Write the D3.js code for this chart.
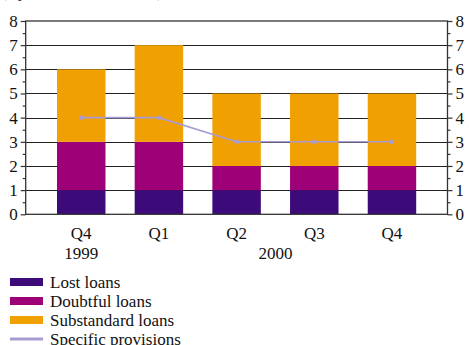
<!DOCTYPE html>
<html>
<head>
<meta charset="utf-8">
<script src="https://cdn.jsdelivr.net/npm/d3@7"></script>
<style>
  html, body { margin: 0; padding: 0; background: #fff; }
  svg { display: block; }
  text { font-family: "Liberation Serif", "DejaVu Serif", serif; fill: #111; }
</style>
</head>
<body>
<svg id="chart" width="469" height="345"></svg>
<script>
// Quarter labels and year labels under them
const quarters = ["Q4", "Q1", "Q2", "Q3", "Q4"];
const years = ["1999", "", "2000", "", ""];
const periods = ["1999Q4", "2000Q1", "2000Q2", "2000Q3", "2000Q4"];

// Loan classification values per quarter
const lostLoans = [1, 1, 1, 1, 1];
const doubtfulLoans = [2, 2, 1, 1, 1];
const substandardLoans = [3, 4, 3, 3, 3];
const specificProvisions = [4, 4, 3, 3, 3];

const yTicks = [0, 1, 2, 3, 4, 5, 6, 7, 8];

const seriesNames = ["Lost loans", "Doubtful loans", "Substandard loans"];
const seriesColors = ["#3d0b79", "#9e0078", "#f0a000"];
const lineName = "Specific provisions";
const lineColor = "#a99bd2";

const svg = d3.select("#chart");
const plotLeft = 25.7, plotRight = 447.5, plotTop = 21, plotBottom = 214.3;
const fs = "17px";

const x = d3.scaleBand().domain(periods).range([plotLeft, plotRight])
  .paddingInner(0.376).paddingOuter(0.403);
const y = d3.scaleLinear().domain([0, 8]).range([plotBottom, plotTop]);

// Heading line, running off the top edge
svg.append("text").attr("x", 1).attr("y", -2.6)
  .style("font-size", fs).text("(By class, in trillion lei)");

// Horizontal grid lines
svg.append("g").selectAll("line").data(yTicks.filter(d => d > 0 && d < 8)).join("line")
  .attr("x1", plotLeft).attr("x2", plotRight)
  .attr("y1", d => Math.round(y(d)) + 0.5).attr("y2", d => Math.round(y(d)) + 0.5)
  .attr("stroke", "#222").attr("stroke-width", 1.2);

// Stacked bars
const rows = periods.map((p, i) => ({ p, lost: lostLoans[i], doubtful: doubtfulLoans[i], sub: substandardLoans[i] }));
const stack = d3.stack().keys(["lost", "doubtful", "sub"])(rows);
svg.append("g").selectAll("g").data(stack).join("g")
  .attr("fill", (d, i) => seriesColors[i])
  .selectAll("rect").data(d => d).join("rect")
  .attr("x", d => x(d.data.p))
  .attr("width", x.bandwidth())
  .attr("y", d => y(d[1]))
  .attr("height", d => y(d[0]) - y(d[1]));

// Frame: top, left, right, bottom
svg.append("rect").attr("x", plotLeft).attr("y", y(8)).attr("width", plotRight - plotLeft).attr("height", y(0) - y(8))
  .attr("fill", "none").attr("stroke", "#333").attr("stroke-width", 1.3);

// Axes with major and minor ticks on both sides
const halfTicks = d3.range(0.5, 8, 1);
function sideAxis(axisFn, xpos) {
  const g = svg.append("g").attr("transform", `translate(${xpos},0)`);
  g.call(axisFn(y).tickValues(yTicks).tickSize(5).tickPadding(3).tickFormat(d3.format("d")));
  g.select(".domain").remove();
  g.selectAll(".tick line").attr("stroke", "#333").attr("stroke-width", 1.2);
  g.selectAll(".tick text").style("font-size", fs).style("font-family", "'Liberation Serif', serif").attr("fill", "#111");
  const m = svg.append("g").attr("transform", `translate(${xpos},0)`);
  m.call(axisFn(y).tickValues(halfTicks).tickSize(3).tickFormat(""));
  m.select(".domain").remove();
  m.selectAll(".tick line").attr("stroke", "#333").attr("stroke-width", 1.2);
}
sideAxis(d3.axisLeft, plotLeft);
sideAxis(d3.axisRight, plotRight);

// Category labels
const xl = svg.append("g");
xl.selectAll("text.q").data(periods).join("text").attr("class", "q")
  .attr("x", d => x(d) + x.bandwidth() / 2).attr("y", 239)
  .attr("text-anchor", "middle").style("font-size", fs)
  .text((d, i) => quarters[i]);
xl.selectAll("text.yr").data(periods.filter((d, i) => years[i])).join("text").attr("class", "yr")
  .attr("x", d => x(d) + x.bandwidth() / 2).attr("y", 259)
  .attr("dx", d => d === "2000Q2" ? 39 : 0)
  .attr("text-anchor", "middle").style("font-size", fs)
  .text(d => years[periods.indexOf(d)]);

// Provisions line with small square markers
const line = d3.line().x((d, i) => x(periods[i]) + x.bandwidth() / 2).y(d => y(d));
svg.append("path").datum(specificProvisions).attr("d", line)
  .attr("fill", "none").attr("stroke", lineColor).attr("stroke-width", 1.6);
svg.append("g").selectAll("rect").data(specificProvisions).join("rect")
  .attr("x", (d, i) => x(periods[i]) + x.bandwidth() / 2 - 2)
  .attr("y", d => y(d) - 2).attr("width", 4).attr("height", 4)
  .attr("fill", lineColor);

// Legend
const legend = svg.append("g");
const items = seriesNames.map((n, i) => ({ n, c: seriesColors[i] }));
const rowY = [282, 301, 320, 339];
items.forEach((it, i) => {
  legend.append("rect").attr("x", 10).attr("y", rowY[i] - 4).attr("width", 33).attr("height", 8).attr("fill", it.c);
  legend.append("text").attr("x", 50).attr("y", rowY[i] + 5.5).style("font-size", fs).text(it.n);
});
legend.append("line").attr("x1", 10).attr("x2", 43).attr("y1", rowY[3]).attr("y2", rowY[3])
  .attr("stroke", lineColor).attr("stroke-width", 3);
legend.append("text").attr("x", 50).attr("y", rowY[3] + 5.5).style("font-size", fs).text(lineName);
</script>
</body>
</html>
